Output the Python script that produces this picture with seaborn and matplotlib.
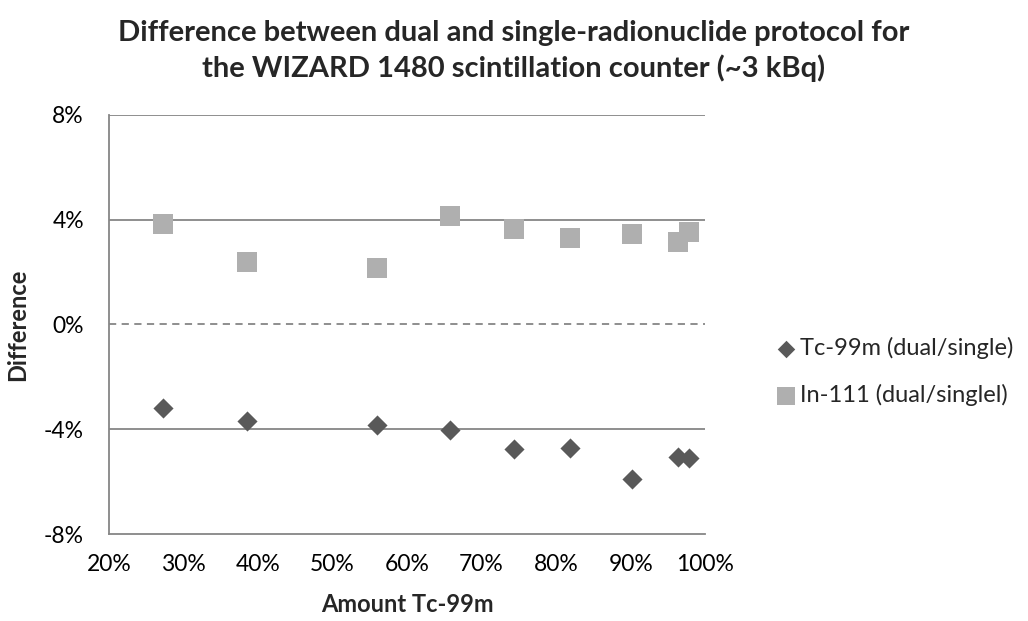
import matplotlib
matplotlib.use("Agg")
import matplotlib.pyplot as plt
import matplotlib.ticker as mticker
import seaborn as sns
import pandas as pd

# Fraction of Tc-99m in the sample (percent)
amount_tc = [27.2, 38.5, 56.0, 65.8, 74.4, 81.8, 90.2, 96.4, 97.8]
# Relative difference, dual vs single protocol (percent)
tc_diff = [-3.19, -3.68, -3.82, -4.02, -4.77, -4.73, -5.90, -5.06, -5.11]
in_diff = [3.82, 2.38, 2.15, 4.14, 3.66, 3.30, 3.44, 3.13, 3.54]

series_tc = "Tc-99m (dual/single)"
series_in = "In-111 (dual/singlel)"
y_ticks = [-8, -4, 0, 4, 8]
x_ticks = [20, 30, 40, 50, 60, 70, 80, 90, 100]

df_tc = pd.DataFrame({"amount": amount_tc, "diff": tc_diff})
df_in = pd.DataFrame({"amount": amount_tc, "diff": in_diff})

sns.set_theme(style="white")
plt.rcParams["font.family"] = ["Lato", "DejaVu Sans"]

fig = plt.figure(figsize=(10.28, 6.21), dpi=100)
ax = fig.add_axes([0.106, 0.140, 0.580, 0.675])

grid_col = "#868686"
for yv in (-4, 4, 8):
    ax.axhline(yv, color=grid_col, lw=1.3, zorder=0)
ax.axhline(0, color=grid_col, lw=1.3, ls=(0, (4, 3)), zorder=0)

sns.scatterplot(data=df_tc, x="amount", y="diff", marker="D", s=105,
                color="#595959", linewidth=0, ax=ax, label=series_tc, zorder=3)
sns.scatterplot(data=df_in, x="amount", y="diff", marker="s", s=200,
                color="#afafaf", linewidth=0, ax=ax, label=series_in, zorder=3)

ax.set_xlim(20, 100)
ax.set_ylim(-8, 8)
ax.set_xticks(x_ticks)
ax.set_yticks(y_ticks)
ax.xaxis.set_major_formatter(mticker.FuncFormatter(lambda v, p: f"{v:.0f}%"))
ax.yaxis.set_major_formatter(mticker.FuncFormatter(lambda v, p: f"{v:.0f}%"))
ax.tick_params(axis="both", length=0, labelsize=16.5, colors="#000000")
ax.tick_params(axis="x", pad=14)
ax.tick_params(axis="y", pad=18)

for side in ("top", "right"):
    ax.spines[side].set_visible(False)
for side in ("left", "bottom"):
    ax.spines[side].set_color(grid_col)
    ax.spines[side].set_linewidth(1.3)

ax.set_xlabel("Amount Tc-99m", fontsize=17, fontweight="bold", labelpad=13)
ax.set_ylabel("Difference", fontsize=17, fontweight="bold", labelpad=11)

fig.suptitle("Difference between dual and single-radionuclide protocol for\n"
             "the WIZARD 1480 scintillation counter (~3 kBq)",
             x=0.5, y=0.967, fontsize=21, fontweight="bold", linespacing=1.33)

leg = ax.legend(loc="center left", bbox_to_anchor=(1.116, 0.387), frameon=False,
                fontsize=17, handletextpad=0.1, labelspacing=1.05,
                markerscale=0.87, handlelength=1.0, borderaxespad=0,
                borderpad=0)

fig.savefig("out.png", dpi=100, facecolor="white")
